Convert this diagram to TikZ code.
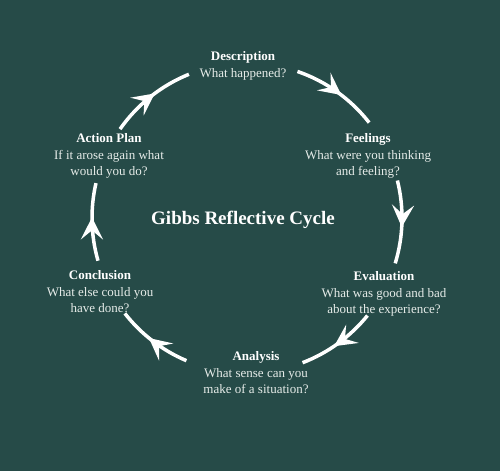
\documentclass[tikz,border=0pt]{standalone}
\usepackage{fontspec}
\setmainfont{Liberation Serif}
\usetikzlibrary{arrows.meta,decorations.markings}
\definecolor{cyclebg}{HTML}{264B48}
\definecolor{subtext}{HTML}{E6ECE9}

\begin{document}
\begin{tikzpicture}[
  x=1pt,y=-1pt,
  stage/.style={align=center, text=subtext, font=\fontsize{13}{16.5}\selectfont, inner sep=0pt},
  cyc/.style={draw=white, line width=3.5pt, postaction={decorate},
    decoration={markings, mark=at position 0.56 with {\arrow[white]{Stealth[length=22pt,width=22pt,inset=9pt]}}}}
]
\fill[cyclebg] (0,0) rectangle (500,471);
\coordinate (hub) at (247,218);
\node[stage] (desc) at (243,66) {\textcolor{white}{\textbf{Description}}\\What happened?};
\node[stage] (feel) at (368,156) {\textcolor{white}{\textbf{Feelings}}\\What were you thinking\\and feeling?};
\node[stage] (eval) at (384,294) {\textcolor{white}{\textbf{Evaluation}}\\What was good and bad\\about the experience?};
\node[stage] (anal) at (256,373) {\textcolor{white}{\textbf{Analysis}}\\What sense can you\\make of a situation?};
\node[stage] (concl) at (100,292) {\textcolor{white}{\textbf{Conclusion}}\\What else could you\\have done?};
\node[stage] (plan) at (109,156) {\textcolor{white}{\textbf{Action Plan}}\\If it arose again what\\would you do?};
\node[text=white, font=\fontsize{19}{23}\selectfont\bfseries] (title) at (243,220) {Gibbs Reflective Cycle};
\draw[cyc] ([shift={(-71:155)}]hub) arc[start angle=-71, end angle=-38, radius=155];
\draw[cyc] ([shift={(-14:155)}]hub) arc[start angle=-14, end angle=17, radius=155];
\draw[cyc] ([shift={(39:155)}]hub) arc[start angle=39, end angle=69, radius=155];
\draw[cyc] ([shift={(113:155)}]hub) arc[start angle=113, end angle=142, radius=155];
\draw[cyc] ([shift={(164:155)}]hub) arc[start angle=164, end angle=193, radius=155];
\draw[cyc] ([shift={(215:155)}]hub) arc[start angle=215, end angle=248, radius=155];
\end{tikzpicture}
\end{document}
